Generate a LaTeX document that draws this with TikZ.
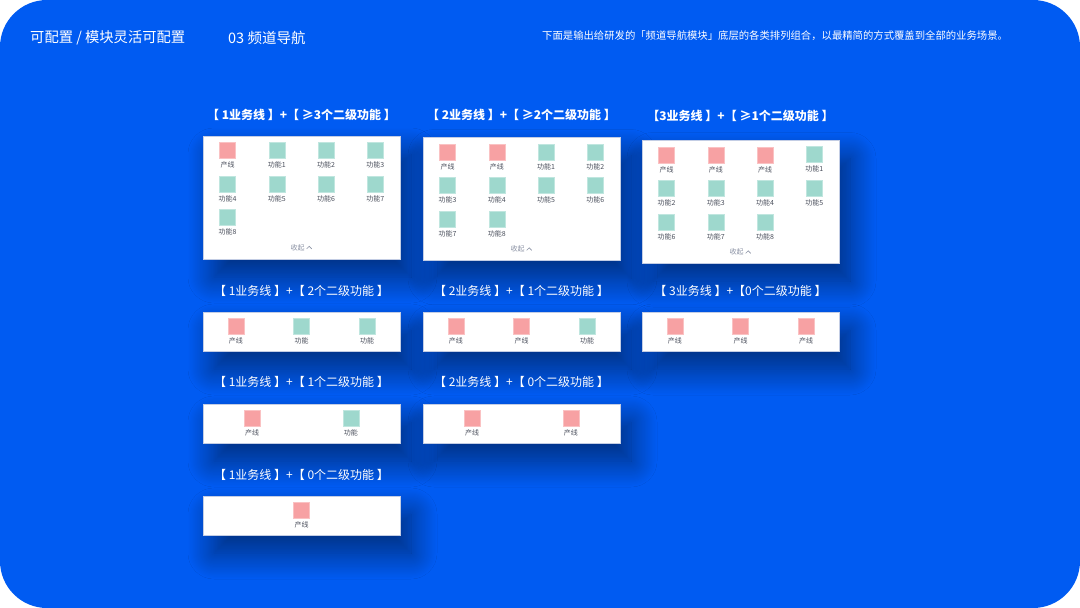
\documentclass[tikz,border=0pt]{standalone}
\usepackage{fontspec}
\setmainfont{Noto Sans CJK SC}
\usepackage{tikz}
\usetikzlibrary{shadows.blur}
\definecolor{NavBlue}{HTML}{005BF2}
\definecolor{NavPink}{HTML}{F7A1A3}
\definecolor{NavTeal}{HTML}{9ED8CD}
\definecolor{NavEdge}{HTML}{C3CDE4}
\definecolor{NavText}{HTML}{4A4F5C}
\definecolor{NavFold}{HTML}{8C93A5}

\begin{document}
\begin{tikzpicture}[x=1pt,y=-1pt,
  card/.style={fill=white,draw=NavEdge,line width=.6pt,
    blur shadow={shadow xshift=11pt,shadow yshift=-18pt,shadow blur radius=26pt,shadow opacity=50,shadow blur steps=24}},
  ico/.style={minimum size=16pt,inner sep=0pt,line width=.5pt},
  pk/.style={ico,fill=NavPink,draw=NavPink!65!white},
  tl/.style={ico,fill=NavTeal,draw=NavTeal!65!white},
  icotext/.style={inner sep=0pt,text=NavText,font=\fontsize{7}{8}\selectfont},
  fold/.style={inner sep=0pt,text=NavFold,font=\fontsize{7}{8}\selectfont},
  ttl/.style={inner sep=0pt,text=white,font=\bfseries\fontsize{12}{14}\selectfont},
  subttl/.style={inner sep=0pt,text=white,font=\fontsize{12}{14}\selectfont}]
\path[use as bounding box] (0,0) rectangle (1080,608);
\fill[white] (0,0) rectangle (1080,608);
\fill[NavBlue,rounded corners=47pt] (0,0) rectangle (1080,608);
\node[anchor=west,inner sep=0pt,text=white,font=\fontsize{14.3}{16}\selectfont] (hdMain) at (30,38) {可配置 / 模块灵活可配置};
\node[anchor=west,inner sep=0pt,text=white,font=\fontsize{14.5}{16}\selectfont] (hdSec) at (228,38) {03 频道导航};
\node[anchor=west,inner sep=0pt,text=white,font=\fontsize{10.35}{12}\selectfont] (hdNote) at (542,36) {下面是输出给研发的「频道导航模块」底层的各类排列组合，以最精简的方式覆盖到全部的业务场景。};
\path[card] (203,136) rectangle (400,259);
\path[card] (423,137.5) rectangle (620,260.5);
\path[card] (642,140.5) rectangle (839,263);
\path[card] (203,312) rectangle (400,351);
\path[card] (423,312) rectangle (620,351);
\path[card] (642,312) rectangle (839,351);
\path[card] (203,404) rectangle (400,443);
\path[card] (423,404) rectangle (620,443);
\path[card] (203,496) rectangle (400,535);
\node[ttl] (tA1) at (301.5,115) {【 1业务线 】+【 ≥3个二级功能 】};
\node[ttl] (tB1) at (521.5,115) {【 2业务线 】+【 ≥2个二级功能 】};
\node[ttl] (tC1) at (740.5,116) {【3业务线 】+【 ≥1个二级功能 】};
\node[subttl] (tA2) at (301.5,290.5) {【 1业务线 】+【 2个二级功能 】};
\node[subttl] (tB2) at (521.5,290.5) {【 2业务线 】+【 1个二级功能 】};
\node[subttl] (tC2) at (740.5,290.5) {【 3业务线 】+【0个二级功能 】};
\node[subttl] (tA3) at (301.5,382) {【 1业务线 】+【 1个二级功能 】};
\node[subttl] (tB3) at (521.5,382) {【 2业务线 】+【 0个二级功能 】};
\node[subttl] (tA4) at (301.5,475) {【 1业务线 】+【 0个二级功能 】};
\node[pk] (a1) at (227.6,150.5) {}; \node[icotext] (a1c) at (227.6,165) {产线};
\node[tl] (a2) at (276.9,150.5) {}; \node[icotext] (a2c) at (276.9,165) {功能1};
\node[tl] (a3) at (326.1,150.5) {}; \node[icotext] (a3c) at (326.1,165) {功能2};
\node[tl] (a4) at (375.4,150.5) {}; \node[icotext] (a4c) at (375.4,165) {功能3};
\node[tl] (a5) at (227.6,184) {}; \node[icotext] (a5c) at (227.6,198.5) {功能4};
\node[tl] (a6) at (276.9,184) {}; \node[icotext] (a6c) at (276.9,198.5) {功能5};
\node[tl] (a7) at (326.1,184) {}; \node[icotext] (a7c) at (326.1,198.5) {功能6};
\node[tl] (a8) at (375.4,184) {}; \node[icotext] (a8c) at (375.4,198.5) {功能7};
\node[tl] (a9) at (227.6,217.5) {}; \node[icotext] (a9c) at (227.6,232) {功能8};
\node[fold] (aFold) at (297.5,247.5) {收起};
\draw[NavFold,line width=.6pt] (306.7,248.8) -- (309.2,246.3) -- (311.7,248.8);
\node[pk] (b1) at (447.6,152) {}; \node[icotext] (b1c) at (447.6,166.5) {产线};
\node[pk] (b2) at (496.9,152) {}; \node[icotext] (b2c) at (496.9,166.5) {产线};
\node[tl] (b3) at (546.1,152) {}; \node[icotext] (b3c) at (546.1,166.5) {功能1};
\node[tl] (b4) at (595.4,152) {}; \node[icotext] (b4c) at (595.4,166.5) {功能2};
\node[tl] (b5) at (447.6,185.5) {}; \node[icotext] (b5c) at (447.6,200) {功能3};
\node[tl] (b6) at (496.9,185.5) {}; \node[icotext] (b6c) at (496.9,200) {功能4};
\node[tl] (b7) at (546.1,185.5) {}; \node[icotext] (b7c) at (546.1,200) {功能5};
\node[tl] (b8) at (595.4,185.5) {}; \node[icotext] (b8c) at (595.4,200) {功能6};
\node[tl] (b9) at (447.6,219) {}; \node[icotext] (b9c) at (447.6,233.5) {功能7};
\node[tl] (b10) at (496.9,219) {}; \node[icotext] (b10c) at (496.9,233.5) {功能8};
\node[fold] (bFold) at (517.5,249) {收起};
\draw[NavFold,line width=.6pt] (526.7,250.3) -- (529.2,247.8) -- (531.7,250.3);
\node[pk] (c1) at (666.6,155) {}; \node[icotext] (c1c) at (666.6,169.5) {产线};
\node[pk] (c2) at (715.9,155) {}; \node[icotext] (c2c) at (715.9,169.5) {产线};
\node[pk] (c3) at (765.1,155) {}; \node[icotext] (c3c) at (765.1,169.5) {产线};
\node[tl] (c4) at (814.4,154) {}; \node[icotext] (c4c) at (814.4,168.5) {功能1};
\node[tl] (c5) at (666.6,188.5) {}; \node[icotext] (c5c) at (666.6,203) {功能2};
\node[tl] (c6) at (715.9,188.5) {}; \node[icotext] (c6c) at (715.9,203) {功能3};
\node[tl] (c7) at (765.1,188.5) {}; \node[icotext] (c7c) at (765.1,203) {功能4};
\node[tl] (c8) at (814.4,188.5) {}; \node[icotext] (c8c) at (814.4,203) {功能5};
\node[tl] (c9) at (666.6,222) {}; \node[icotext] (c9c) at (666.6,236.5) {功能6};
\node[tl] (c10) at (715.9,222) {}; \node[icotext] (c10c) at (715.9,236.5) {功能7};
\node[tl] (c11) at (765.1,222) {}; \node[icotext] (c11c) at (765.1,236.5) {功能8};
\node[fold] (cFold) at (736.5,252) {收起};
\draw[NavFold,line width=.6pt] (745.7,253.3) -- (748.2,250.8) -- (750.7,253.3);
\node[pk] (d1) at (235.8,326.5) {}; \node[icotext] (d1c) at (235.8,341) {产线};
\node[tl] (d2) at (301.5,326.5) {}; \node[icotext] (d2c) at (301.5,341) {功能};
\node[tl] (d3) at (367.2,326.5) {}; \node[icotext] (d3c) at (367.2,341) {功能};
\node[pk] (e1) at (455.8,326.5) {}; \node[icotext] (e1c) at (455.8,341) {产线};
\node[pk] (e2) at (521.5,326.5) {}; \node[icotext] (e2c) at (521.5,341) {产线};
\node[tl] (e3) at (587.2,326.5) {}; \node[icotext] (e3c) at (587.2,341) {功能};
\node[pk] (f1) at (674.8,326.5) {}; \node[icotext] (f1c) at (674.8,341) {产线};
\node[pk] (f2) at (740.5,326.5) {}; \node[icotext] (f2c) at (740.5,341) {产线};
\node[pk] (f3) at (806.2,326.5) {}; \node[icotext] (f3c) at (806.2,341) {产线};
\node[pk] (g1) at (252.2,418.5) {}; \node[icotext] (g1c) at (252.2,433) {产线};
\node[tl] (g2) at (350.8,418.5) {}; \node[icotext] (g2c) at (350.8,433) {功能};
\node[pk] (h1) at (472.2,418.5) {}; \node[icotext] (h1c) at (472.2,433) {产线};
\node[pk] (h2) at (570.8,418.5) {}; \node[icotext] (h2c) at (570.8,433) {产线};
\node[pk] (k1) at (301.5,510.5) {}; \node[icotext] (k1c) at (301.5,525) {产线};
\end{tikzpicture}
\end{document}
